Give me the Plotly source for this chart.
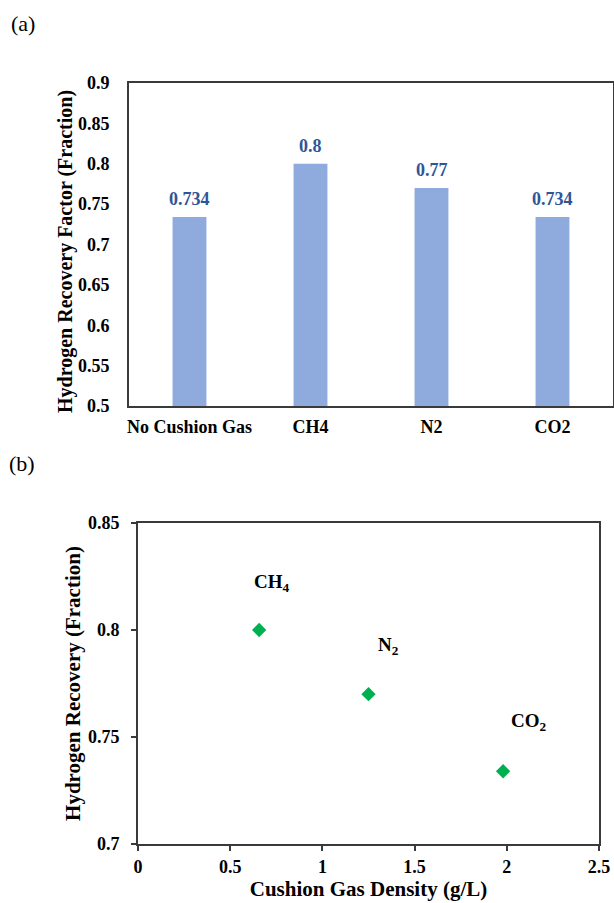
import plotly.graph_objects as go

# ---- Data (a) ----
categories = ["No Cushion Gas", "CH4", "N2", "CO2"]
recovery_factor = [0.734, 0.8, 0.77, 0.734]

# ---- Data (b) ----
gas_labels = ["CH<sub>4</sub>", "N<sub>2</sub>", "CO<sub>2</sub>"]
gas_density = [0.657, 1.25, 1.98]
gas_recovery = [0.8, 0.77, 0.734]

FONT = "Liberation Serif, Times New Roman, serif"
LABEL_BLUE = "#2F5597"
BAR_BLUE = "#8FAADC"
AXIS = "#3a3a3a"
W, H = 614, 903

fig = go.Figure()

xpos = list(range(len(categories)))
fig.add_trace(go.Bar(
    x=xpos, y=recovery_factor, width=0.28,
    marker=dict(color=BAR_BLUE, line=dict(width=0)),
    xaxis="x", yaxis="y", showlegend=False, hoverinfo="skip",
))

fig.add_trace(go.Scatter(
    x=gas_density, y=gas_recovery, mode="markers",
    marker=dict(symbol="diamond", size=11, color="#00B050"),
    xaxis="x2", yaxis="y2", showlegend=False,
))

annotations = []
for xi, v in zip(xpos, recovery_factor):
    annotations.append(dict(
        x=xi, y=v, xref="x", yref="y", text=f"{v:g}", showarrow=False,
        xanchor="center", yanchor="middle",
        yshift=18, font=dict(family=FONT, size=18, color=LABEL_BLUE, weight="bold")))

label_shifts = [(13, 47), (20, 48), (26, 49)]
for lab, xv, yv, (dx, dy) in zip(gas_labels, gas_density, gas_recovery, label_shifts):
    annotations.append(dict(
        x=xv, y=yv, xref="x2", yref="y2", text=lab, showarrow=False,
        xanchor="center", yanchor="middle",
        xshift=dx, yshift=dy, font=dict(family=FONT, size=19, color="black", weight="bold")))

annotations.append(dict(x=23 / W, y=1 - 24 / H, xref="paper", yref="paper",
                        text="(a)", showarrow=False, xanchor="center", yanchor="middle",
                        font=dict(family=FONT, size=22, color="black")))
annotations.append(dict(x=22 / W, y=1 - 464 / H, xref="paper", yref="paper",
                        text="(b)", showarrow=False, xanchor="center", yanchor="middle",
                        font=dict(family=FONT, size=22, color="black")))
# y-axis title of panel (a)
annotations.append(dict(x=65 / W, y=1 - 252 / H, xref="paper", yref="paper",
                        text="Hydrogen Recovery Factor (Fraction)", textangle=-90,
                        showarrow=False, xanchor="center", yanchor="middle",
                        font=dict(family=FONT, size=20, color="black", weight="bold")))

tickfont = dict(family=FONT, size=18, color="black", weight="bold")

fig.update_layout(
    width=W, height=H,
    margin=dict(l=0, r=0, t=0, b=0, autoexpand=False),
    paper_bgcolor="white", plot_bgcolor="white",
    annotations=annotations,
    xaxis=dict(
        domain=[129 / W, 613 / W], anchor="y", automargin=False,
        range=[-0.5, 3.5],
        tickvals=xpos, ticktext=categories,
        tickfont=tickfont, ticks="", ticklabelstandoff=3,
        showgrid=False, zeroline=False,
        showline=True, linecolor=AXIS, linewidth=1.8, mirror=True,
    ),
    yaxis=dict(
        domain=[1 - 406 / H, 1 - 83 / H], anchor="x", automargin=False,
        range=[0.5, 0.9], dtick=0.05, tickformat="~g",
        tickfont=tickfont, ticks="", ticklabelstandoff=14,
        showgrid=False, zeroline=False,
        showline=True, linecolor=AXIS, linewidth=1.8, mirror=True,
    ),
    xaxis2=dict(
        domain=[138 / W, 599 / W], anchor="y2", automargin=False,
        range=[0, 2.5], dtick=0.5, tickformat="~g",
        tickfont=tickfont, ticks="outside", ticklen=5, tickcolor=AXIS, tickwidth=1.5,
        showgrid=False, zeroline=False,
        showline=True, linecolor=AXIS, linewidth=1.8, mirror=True,
        title=dict(text="Cushion Gas Density (g/L)",
                   font=dict(family=FONT, size=21, color="black", weight="bold"),
                   standoff=6),
    ),
    yaxis2=dict(
        domain=[1 - 844 / H, 1 - 523 / H], anchor="x2", automargin=False,
        range=[0.7, 0.85], dtick=0.05, tickformat="~g",
        tickfont=tickfont, ticks="outside", ticklen=5, tickcolor=AXIS, tickwidth=1.5,
        ticklabelstandoff=8,
        showgrid=False, zeroline=False,
        showline=True, linecolor=AXIS, linewidth=1.8, mirror=True,
        title=dict(text="Hydrogen Recovery (Fraction)",
                   font=dict(family=FONT, size=21, color="black", weight="bold"),
                   standoff=2),
    ),
)

fig.write_html(
    "out.html",
    config={"displayModeBar": False},
    post_script="document.body.style.margin='0';document.body.style.overflow='hidden';",
)
